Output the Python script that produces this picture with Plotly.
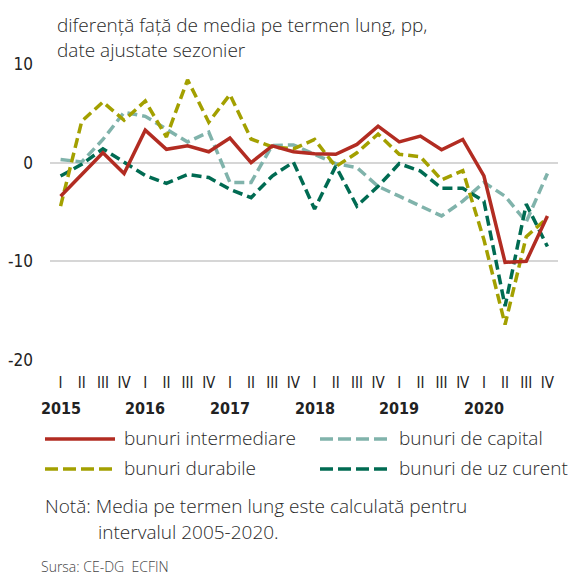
import plotly.graph_objects as go

quarters = ["I", "II", "III", "IV"] * 6
years = ["2015", "2016", "2017", "2018", "2019", "2020"]
y_ticks = [-20, -10, 0, 10]
y_ticktext = ["-20", "-10", "0", "10"]

intermediare = [-3.4, -1.2, 1.0, -1.1, 3.3, 1.35, 1.7, 1.1, 2.5, 0.0, 1.7, 1.1,
                0.9, 0.85, 1.85, 3.7, 2.1, 2.7, 1.3, 2.35, -1.35, -10.1, -10.0, -5.4]
capital = [0.33, 0.07, 2.35, 5.1, 4.7, 3.4, 2.1, 3.1, -2.0, -2.0, 1.75, 1.8,
           0.85, -0.1, -0.5, -2.4, -3.4, -4.4, -5.4, -3.9, -2.0, -3.4, -6.0, -1.1]
durabile = [-4.4, 4.2, 6.15, 4.3, 6.25, 2.6, 8.4, 4.1, 6.9, 2.4, 1.6, 1.4,
            2.35, -0.4, 1.0, 2.9, 0.85, 0.6, -1.75, -0.8, -7.8, -16.4, -7.5, -5.6]
uz_curent = [-1.35, -0.17, 1.4, 0.0, -1.3, -2.1, -1.2, -1.5, -2.7, -3.55, -1.35, 0.05,
             -4.7, -0.35, -4.4, -2.4, -0.1, -0.85, -2.6, -2.6, -3.9, -14.55, -4.2, -8.5]

names = ["bunuri intermediare", "bunuri de capital", "bunuri durabile", "bunuri de uz curent"]
series = [intermediare, capital, durabile, uz_curent]
colors = ["#B22C22", "#80B3AB", "#A3A000", "#006B52"]
dashes = ["solid", "10px,5px", "10px,5px", "10px,5px"]
leg_dashes = ["solid", "13px,5px", "13px,5px", "13px,5px"]

x = list(range(len(quarters)))

TXT = "'Open Sans', Lato, sans-serif"
NARROW = "'Liberation Sans Narrow', 'DejaVu Sans Condensed', sans-serif"

L, R, T, B = 50, 558, 64, 360  # plot area in pixels
W, H = 570, 577

fig = go.Figure()
order = [1, 3, 2, 0]
for i in order:
    fig.add_trace(go.Scatter(x=x, y=series[i], mode="lines", name=names[i],
                             line=dict(color=colors[i], width=3.5, dash=dashes[i]),
                             showlegend=False, hoverinfo="skip"))

fig.update_layout(
    width=W, height=H,
    margin=dict(l=L, r=W - R, t=T, b=H - B, autoexpand=False),
    paper_bgcolor="white", plot_bgcolor="white",
    showlegend=False,
    xaxis=dict(range=[-0.5, 23.5], tickmode="array", tickvals=x, ticktext=quarters,
               showgrid=False, zeroline=False, showline=False, ticks="", automargin=False,
               tickfont=dict(family=NARROW, size=15, color="#222"), ticklabelstandoff=12),
    yaxis=dict(range=[-20, 10], tickmode="array", tickvals=y_ticks, ticktext=y_ticktext,
               showgrid=True, automargin=False,
               gridcolor="#D6D6D6", gridwidth=2, zeroline=False, showline=False,
               ticks="", tickfont=dict(family=NARROW, size=17, color="#222"),
               ticklabelstandoff=16),
)

for k, yr in enumerate(years):
    fig.add_annotation(x=4 * k, y=(B - 408) / (B - T), xref="x", yref="paper",
                       text="<b>%s</b>" % yr, showarrow=False,
                       font=dict(family=NARROW, size=16, color="#222"),
                       xanchor="center", yanchor="middle")


def add_text(xp, yp, text, size, color="#2a2a2a", family=TXT):
    fig.add_annotation(x=(xp - L) / (R - L), y=(B - yp) / (B - T), xref="paper", yref="paper",
                       text=text, showarrow=False, xanchor="left", yanchor="middle",
                       borderpad=0, font=dict(family=family, size=size, color=color, weight=300))


add_text(56, 25, "diferență față de media pe termen lung, pp,", 19)
add_text(56, 50, "date ajustate sezonier", 19)

leg = [(45, 439, 0), (320, 439, 1), (45, 469, 2), (320, 469, 3)]
for xp, yp, i in leg:
    fig.add_shape(type="line", xref="paper", yref="paper",
                  x0=(xp - L) / (R - L), x1=(xp + 70 - L) / (R - L),
                  y0=(B - yp) / (B - T), y1=(B - yp) / (B - T),
                  line=dict(color=colors[i], width=3.5, dash=leg_dashes[i]))
    add_text(xp + 78, yp - 1, names[i], 19)

add_text(44, 506, "Notă: Media pe termen lung este calculată pentru", 19)
add_text(97, 532, "intervalul 2005-2020.", 19)
add_text(40, 566, "Sursa: CE-DG  ECFIN", 14, color="#444")

fig.write_html("out.html", config={"displayModeBar": False},
               post_script="document.body.style.margin='0px';")
